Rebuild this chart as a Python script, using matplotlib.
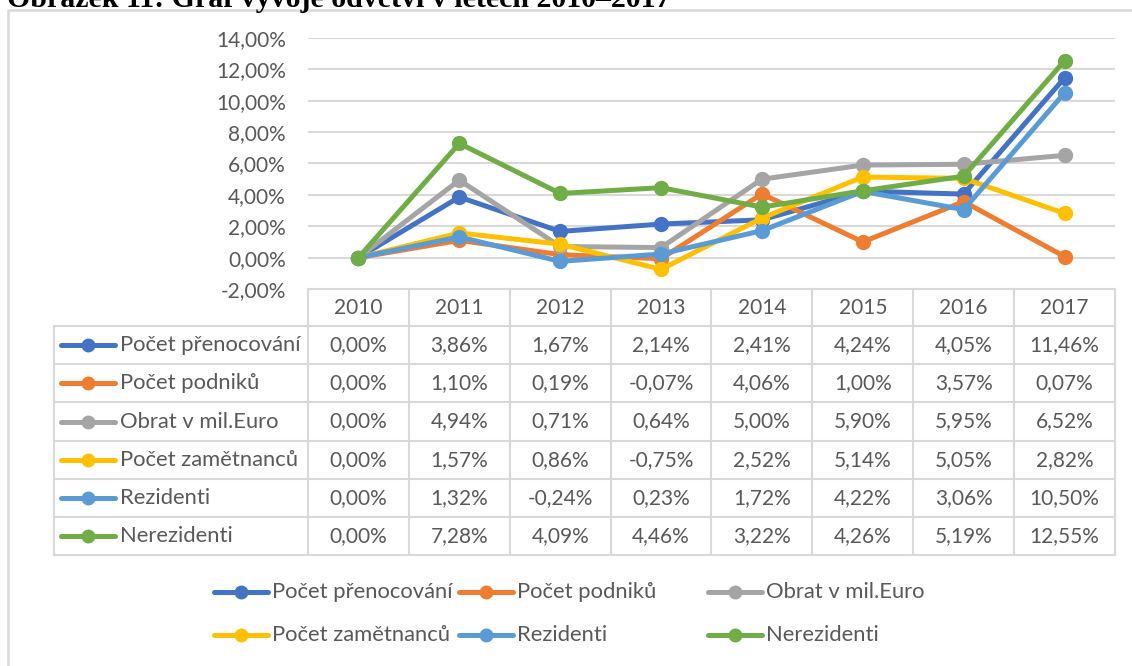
import matplotlib.pyplot as plt
from matplotlib.transforms import blended_transform_factory
from matplotlib.ticker import FuncFormatter

plt.rcParams['font.family'] = ['Lato', 'DejaVu Sans']

years = ['2010', '2011', '2012', '2013', '2014', '2015', '2016', '2017']
series_names = ['Počet přenocování', 'Počet podniků', 'Obrat v mil.Euro',
                'Počet zamětnanců', 'Rezidenti', 'Nerezidenti']
prenocovani = [0.00, 3.86, 1.67, 2.14, 2.41, 4.24, 4.05, 11.46]
podniky = [0.00, 1.10, 0.19, -0.07, 4.06, 1.00, 3.57, 0.07]
obrat = [0.00, 4.94, 0.71, 0.64, 5.00, 5.90, 5.95, 6.52]
zamestnanci = [0.00, 1.57, 0.86, -0.75, 2.52, 5.14, 5.05, 2.82]
rezidenti = [0.00, 1.32, -0.24, 0.23, 1.72, 4.22, 3.06, 10.50]
nerezidenti = [0.00, 7.28, 4.09, 4.46, 3.22, 4.26, 5.19, 12.55]
series = [prenocovani, podniky, obrat, zamestnanci, rezidenti, nerezidenti]
colors = ['#4472C4', '#ED7D31', '#A5A5A5', '#FFC000', '#5B9BD5', '#70AD47']

W, H = 1132, 666
txt = '#595959'
grid = '#d9d9d9'
fs = 15       # numbers
fs_name = 15.8  # series names

def pct(v):
    return ('%.2f%%' % v).replace('.', ',')

fig = plt.figure(figsize=(W / 100, H / 100), dpi=100, facecolor='white')

# overlay in pixel coordinates for frame, table and legend
ov = fig.add_axes([0, 0, 1, 1], zorder=0)
ov.set_xlim(0, W)
ov.set_ylim(H, 0)
ov.axis('off')

# main plot area: x 308..1115 px, y 38..289 px
L, R, T, B = 308, 1115, 38, 289
ax = fig.add_axes([L / W, 1 - B / H, (R - L) / W, (B - T) / H], zorder=1)
ax.patch.set_alpha(0)
x = list(range(len(years)))
for vals, c in zip(series, colors):
    ax.plot(x, vals, color=c, lw=3.6, marker='o', ms=10, solid_capstyle='round')
ax.set_xlim(-0.5, len(years) - 0.5)
ax.set_ylim(-2, 14)
ax.set_yticks(range(-2, 15, 2))
ax.yaxis.set_major_formatter(FuncFormatter(lambda v, p: pct(v)))
ax.set_xticks([])
for s in ax.spines.values():
    s.set_visible(False)
ax.tick_params(axis='y', length=0, pad=16, labelsize=fs, labelcolor=txt)
for v in range(0, 15, 2):
    ax.axhline(v, color=grid, lw=1.5, zorder=0)

# outer chart frame (partly outside the picture)
ov.plot([8, 8, W + 5], [H + 5, 10, 10], color=grid, lw=1.8)

# caption, cut at the top
fig.text(7 / W, 1 - 7 / H, 'Obrázek 11: Graf vývoje odvětví v letech 2010–2017',
         family='Liberation Serif', weight='bold', fontsize=21.5, va='baseline', ha='left')

# data table
tr = blended_transform_factory(ax.transData, ov.transData)
row_top = 289
head_h = 37
row_h = 38.2
rows_y = [row_top + head_h + i * row_h for i in range(len(series) + 1)]
tab_left = 54
lw_t = 1.5
# horizontal lines
ov.plot([-0.5, len(years) - 0.5], [row_top, row_top], color=grid, lw=lw_t, transform=tr)
for yy in rows_y:
    ov.plot([tab_left, L], [yy, yy], color=grid, lw=lw_t)
    ov.plot([-0.5, len(years) - 0.5], [yy, yy], color=grid, lw=lw_t, transform=tr)
# vertical lines
ov.plot([tab_left, tab_left], [rows_y[0], rows_y[-1]], color=grid, lw=lw_t)
for k in range(len(years) + 1):
    ov.plot([k - 0.5, k - 0.5], [row_top, rows_y[-1]], color=grid, lw=lw_t, transform=tr)
# header
for k, yr in enumerate(years):
    ov.text(k, row_top + head_h / 2, yr, transform=tr, ha='center', va='center',
            fontsize=fs, color=txt)
# rows
for i, (name, vals, c) in enumerate(zip(series_names, series, colors)):
    yc = rows_y[i] + row_h / 2
    ov.plot([61, 115], [yc, yc], color=c, lw=3.6, solid_capstyle='round')
    ov.plot([88], [yc], color=c, marker='o', ms=9)
    ov.text(120, yc, name, ha='left', va='center', fontsize=fs_name, color=txt)
    for k, v in enumerate(vals):
        ov.text(k, yc, pct(v), transform=tr, ha='center', va='center',
                fontsize=fs, color=txt)

# legend below
leg_x = [214, 459, 708]
leg_y = [592, 635]
for i, (name, c) in enumerate(zip(series_names, colors)):
    lx = leg_x[i % 3]
    ly = leg_y[i // 3]
    ov.plot([lx, lx + 54], [ly, ly], color=c, lw=3.6, solid_capstyle='round')
    ov.plot([lx + 27], [ly], color=c, marker='o', ms=9)
    ov.text(lx + 58, ly, name, ha='left', va='center', fontsize=fs_name, color=txt)

fig.savefig('out.png', dpi=100, facecolor='white')
